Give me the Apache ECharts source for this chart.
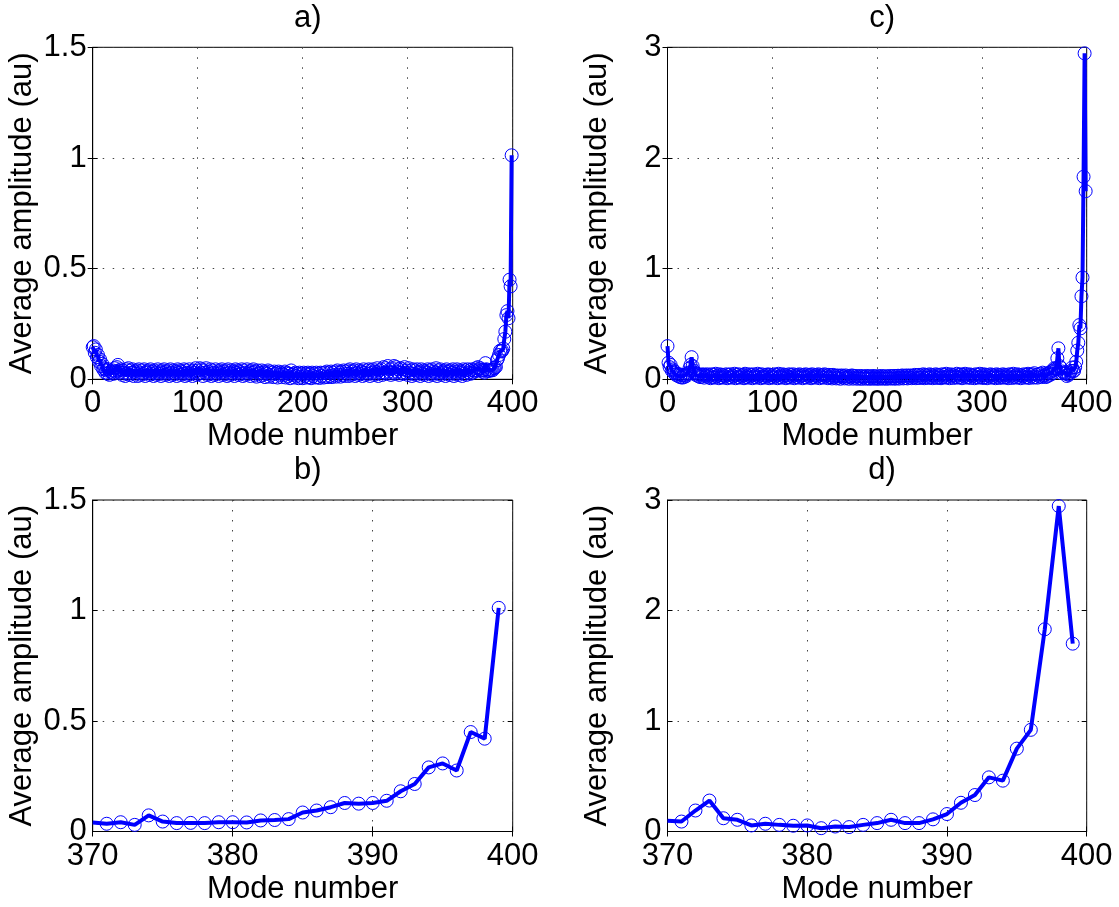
<!DOCTYPE html>
<html>
<head>
<meta charset="utf-8">
<script src="https://cdn.jsdelivr.net/npm/echarts@6/dist/echarts.min.js"></script>
<style>
html,body{margin:0;padding:0;background:#fff;}
#chart{width:1119px;height:907px;}
</style>
</head>
<body>
<div id="chart"></div>
<script>
// Panel titles and axis labels
const panelTitles = ['a)', 'b)', 'c)', 'd)'];
const xLabel = 'Mode number';
const yLabel = 'Average amplitude (au)';

// Zoomed region (modes 370..399)
const zoomModes = [370,371,372,373,374,375,376,377,378,379,380,381,382,383,384,385,386,387,388,389,390,391,392,393,394,395,396,397,398,399];
// Case 1 (panels a, b) values for modes 370..399
const case1Tail = [0.041,0.035,0.042,0.030,0.073,0.045,0.038,0.039,0.038,0.042,0.042,0.041,0.050,0.052,0.056,0.086,0.095,0.110,0.129,0.126,0.129,0.139,0.182,0.215,0.290,0.308,0.276,0.450,0.420,1.012];
// Case 2 (panels c, d) values for modes 370..399
const case2Tail = [0.097,0.090,0.190,0.280,0.120,0.106,0.055,0.070,0.060,0.052,0.055,0.030,0.045,0.040,0.060,0.076,0.106,0.076,0.076,0.110,0.158,0.260,0.330,0.490,0.460,0.750,0.920,1.830,2.945,1.700];

// Case 1 values for modes 0..369 (panel a)
const case1Head = [
0.145,0.15,0.12,0.135,0.1,0.11,0.08,0.09,0.06,0.07,0.045,0.05,0.03,0.04,0.025,0.045,0.02,0.035,0.03,0.04,
0.025,0.05,0.035,0.055,0.065,0.04,0.03,0.045,0.02,0.04,0.03,0.015,0.045,0.025,0.05,0.02,0.04,0.03,0.045,0.015,
0.035,0.025,0.04,0.015,0.045,0.03,0.02,0.04,0.025,0.045,0.015,0.035,0.03,0.04,0.02,0.045,0.025,0.035,0.015,0.04,
0.03,0.02,0.045,0.025,0.035,0.015,0.04,0.03,0.045,0.02,0.035,0.025,0.04,0.015,0.045,0.03,0.02,0.04,0.025,0.035,
0.015,0.045,0.03,0.04,0.02,0.035,0.025,0.045,0.015,0.04,0.03,0.02,0.045,0.025,0.035,0.015,0.04,0.03,0.05,0.02,
0.04,0.025,0.05,0.03,0.045,0.015,0.04,0.03,0.05,0.02,0.035,0.025,0.045,0.015,0.04,0.03,0.02,0.045,0.025,0.035,
0.015,0.04,0.03,0.045,0.02,0.035,0.025,0.04,0.015,0.045,0.03,0.02,0.04,0.025,0.035,0.015,0.045,0.03,0.04,0.02,
0.035,0.025,0.045,0.015,0.04,0.03,0.02,0.045,0.025,0.035,0.015,0.04,0.03,0.045,0.02,0.035,0.012,0.04,0.025,0.03,
0.015,0.04,0.02,0.035,0.01,0.03,0.025,0.04,0.012,0.035,0.02,0.03,0.01,0.035,0.025,0.03,0.008,0.035,0.02,0.03,
0.01,0.025,0.02,0.035,0.008,0.03,0.015,0.025,0.005,0.04,0.02,0.025,0.008,0.03,0.015,0.025,0.005,0.03,0.012,0.025,
0.005,0.03,0.015,0.025,0.008,0.03,0.01,0.025,0.005,0.03,0.015,0.025,0.008,0.03,0.01,0.025,0.006,0.03,0.015,0.028,
0.008,0.03,0.012,0.035,0.01,0.03,0.015,0.035,0.01,0.03,0.018,0.035,0.012,0.04,0.02,0.03,0.012,0.035,0.02,0.04,
0.015,0.035,0.025,0.04,0.015,0.045,0.02,0.035,0.025,0.04,0.015,0.045,0.03,0.02,0.04,0.025,0.035,0.015,0.045,0.03,
0.02,0.04,0.025,0.045,0.015,0.04,0.03,0.045,0.02,0.035,0.025,0.05,0.015,0.04,0.03,0.045,0.02,0.055,0.03,0.05,
0.025,0.06,0.035,0.045,0.02,0.05,0.03,0.06,0.025,0.055,0.035,0.045,0.02,0.05,0.03,0.045,0.025,0.055,0.03,0.04,
0.02,0.05,0.03,0.04,0.015,0.045,0.025,0.04,0.02,0.045,0.03,0.035,0.015,0.045,0.025,0.04,0.02,0.035,0.03,0.045,
0.015,0.04,0.025,0.045,0.02,0.035,0.03,0.05,0.015,0.04,0.025,0.045,0.02,0.035,0.03,0.04,0.015,0.045,0.025,0.035,
0.02,0.04,0.03,0.045,0.015,0.035,0.025,0.045,0.02,0.04,0.03,0.035,0.015,0.045,0.025,0.04,0.02,0.045,0.03,0.04,
0.025,0.045,0.03,0.04,0.035,0.05,0.04,0.055,0.045,0.05
];
// Case 2 values for modes 0..369 (panel c)
const case2Head = [
0.3,0.15,0.11,0.13,0.08,0.09,0.06,0.07,0.04,0.05,0.03,0.045,0.02,0.04,0.015,0.035,0.02,0.04,0.03,0.05,
0.06,0.1,0.13,0.2,0.12,0.08,0.06,0.04,0.05,0.03,0.045,0.02,0.04,0.025,0.045,0.015,0.04,0.03,0.045,0.02,
0.035,0.01,0.045,0.02,0.04,0.015,0.05,0.025,0.035,0.01,0.045,0.02,0.04,0.015,0.035,0.025,0.045,0.01,0.04,0.02,
0.045,0.015,0.035,0.025,0.05,0.01,0.04,0.02,0.045,0.015,0.035,0.025,0.04,0.01,0.05,0.02,0.035,0.015,0.045,0.025,
0.04,0.01,0.045,0.02,0.035,0.015,0.05,0.025,0.04,0.01,0.045,0.02,0.035,0.015,0.04,0.025,0.045,0.01,0.04,0.02,
0.035,0.015,0.045,0.025,0.04,0.01,0.05,0.02,0.035,0.015,0.045,0.025,0.04,0.01,0.035,0.02,0.045,0.015,0.04,0.025,
0.045,0.01,0.035,0.02,0.04,0.015,0.045,0.025,0.035,0.01,0.04,0.02,0.045,0.015,0.035,0.025,0.04,0.01,0.045,0.02,
0.035,0.015,0.04,0.025,0.045,0.01,0.035,0.02,0.04,0.015,0.045,0.025,0.035,0.01,0.04,0.02,0.035,0.008,0.04,0.018,
0.03,0.008,0.035,0.015,0.03,0.005,0.035,0.02,0.03,0.008,0.035,0.015,0.025,0.005,0.03,0.018,0.035,0.006,0.03,0.015,
0.03,0.005,0.025,0.012,0.03,0.004,0.028,0.015,0.025,0.005,0.03,0.01,0.028,0.004,0.025,0.012,0.03,0.005,0.025,0.01,
0.028,0.004,0.025,0.012,0.03,0.005,0.026,0.01,0.028,0.004,0.025,0.012,0.03,0.006,0.028,0.01,0.03,0.005,0.03,0.012,
0.032,0.006,0.03,0.015,0.035,0.008,0.03,0.012,0.035,0.008,0.032,0.015,0.035,0.01,0.03,0.018,0.04,0.01,0.035,0.015,
0.04,0.012,0.035,0.02,0.045,0.01,0.04,0.018,0.035,0.012,0.045,0.02,0.04,0.01,0.035,0.022,0.045,0.012,0.04,0.018,
0.035,0.01,0.045,0.02,0.04,0.015,0.05,0.02,0.035,0.01,0.045,0.025,0.04,0.012,0.035,0.02,0.05,0.015,0.04,0.02,
0.045,0.01,0.04,0.025,0.05,0.015,0.035,0.02,0.045,0.012,0.04,0.025,0.035,0.01,0.045,0.02,0.04,0.015,0.05,0.02,
0.035,0.012,0.045,0.02,0.04,0.01,0.035,0.025,0.045,0.015,0.04,0.02,0.035,0.01,0.045,0.022,0.04,0.012,0.035,0.02,
0.045,0.015,0.04,0.02,0.035,0.01,0.045,0.025,0.04,0.012,0.05,0.02,0.035,0.015,0.045,0.02,0.04,0.01,0.035,0.025,
0.045,0.015,0.04,0.02,0.05,0.012,0.04,0.025,0.045,0.015,0.055,0.02,0.04,0.015,0.045,0.025,0.05,0.02,0.06,0.03,
0.04,0.02,0.05,0.03,0.06,0.04,0.07,0.05,0.08,0.1
];

const fullX = [0, 400], fullTicks = 100;
const zoomX = [370, 400], zoomTicks = 10;
const yCase1 = [0, 1.5], yCase1Step = 0.5;
const yCase2 = [0, 3], yCase2Step = 1;

// ---- build ----
const FONT = 'Liberation Sans, Arial, Helvetica, sans-serif';
const FS = 31;
const BLUE = '#0000ff';
const grids = [
  {left: 92.7, top: 47.3, width: 420, height: 332},   // a
  {left: 92.7, top: 500, width: 420, height: 331.5},  // b
  {left: 667.5, top: 47.3, width: 419.2, height: 332},// c
  {left: 667.5, top: 500, width: 419.2, height: 331.5}// d
].map(g => Object.assign({show: true, borderColor: '#000', borderWidth: 1, backgroundColor: '#fff', containLabel: false}, g));

const xr = [fullX, zoomX, fullX, zoomX];
const xi = [fullTicks, zoomTicks, fullTicks, zoomTicks];
const yr = [yCase1, yCase1, yCase2, yCase2];
const yi = [yCase1Step, yCase1Step, yCase2Step, yCase2Step];

const gridLine = {show: true, lineStyle: {color: '#444', width: 1, type: [1.5, 8.5]}};
const xAxes = [], yAxes = [];
for (let i = 0; i < 4; i++) {
  xAxes.push({
    type: 'value', gridIndex: i, min: xr[i][0], max: xr[i][1], interval: xi[i],
    name: xLabel, nameLocation: 'middle', nameGap: 42,
    nameTextStyle: {fontFamily: FONT, fontSize: FS, color: '#000'},
    axisLine: {show: true, onZero: false, lineStyle: {color: '#000', width: 1}},
    axisTick: {show: true, inside: true, length: 5, lineStyle: {color: '#000'}},
    axisLabel: {fontFamily: FONT, fontSize: FS, color: '#000', margin: 9, showMinLabel: true, showMaxLabel: true},
    splitLine: gridLine
  });
  yAxes.push({
    type: 'value', gridIndex: i, min: yr[i][0], max: yr[i][1], interval: yi[i],
    name: yLabel, nameLocation: 'middle', nameGap: 55,
    nameTextStyle: {fontFamily: FONT, fontSize: FS, color: '#000'},
    axisLine: {show: true, onZero: false, lineStyle: {color: '#000', width: 1}},
    axisTick: {show: true, inside: true, length: 5, lineStyle: {color: '#000'}},
    axisLabel: {fontFamily: FONT, fontSize: FS, color: '#000', margin: 6, showMinLabel: true, showMaxLabel: true},
    splitLine: gridLine
  });
}
// mirror ticks on top and right edges (box style)
for (let i = 0; i < 4; i++) {
  xAxes.push({
    type: 'value', gridIndex: i, position: 'top', min: xr[i][0], max: xr[i][1], interval: xi[i],
    axisLine: {show: false}, axisLabel: {show: false}, splitLine: {show: false},
    axisTick: {show: true, inside: true, length: 5, lineStyle: {color: '#000'}}
  });
  yAxes.push({
    type: 'value', gridIndex: i, position: 'right', min: yr[i][0], max: yr[i][1], interval: yi[i],
    axisLine: {show: false}, axisLabel: {show: false}, splitLine: {show: false},
    axisTick: {show: true, inside: true, length: 5, lineStyle: {color: '#000'}}
  });
}

const case1 = case1Head.concat(case1Tail);
const case2 = case2Head.concat(case2Tail);
const fullData = arr => arr.map((v, k) => [k, v]);
const zoomData = arr => zoomModes.map((m, k) => (k === 0 ? {value: [m, arr[k]], symbol: 'none'} : [m, arr[k]]));

function mk(idx, data) {
  return {
    type: 'line', xAxisIndex: idx, yAxisIndex: idx, data: data,
    symbol: 'circle', symbolSize: 13, showAllSymbol: true,
    itemStyle: {color: 'rgba(0,0,0,0)', borderColor: BLUE, borderWidth: 1},
    lineStyle: {color: BLUE, width: 4},
    clip: true, animation: false, silent: true, z: 3
  };
}
const series = [
  mk(0, fullData(case1)),
  mk(1, zoomData(case1Tail)),
  mk(2, fullData(case2)),
  mk(3, zoomData(case2Tail))
];

const titles = grids.map((g, i) => ({
  text: panelTitles[i], left: g.left + g.width / 2, top: i % 2 === 0 ? -2 : 450,
  textAlign: 'center',
  textStyle: {fontFamily: FONT, fontSize: FS, fontWeight: 'normal', color: '#000'}
}));

const chart = echarts.init(document.getElementById('chart'), null, {renderer: 'canvas'});
chart.setOption({
  animation: false,
  backgroundColor: '#fff',
  title: titles,
  grid: grids,
  xAxis: xAxes,
  yAxis: yAxes,
  series: series
});
</script>
</body>
</html>
